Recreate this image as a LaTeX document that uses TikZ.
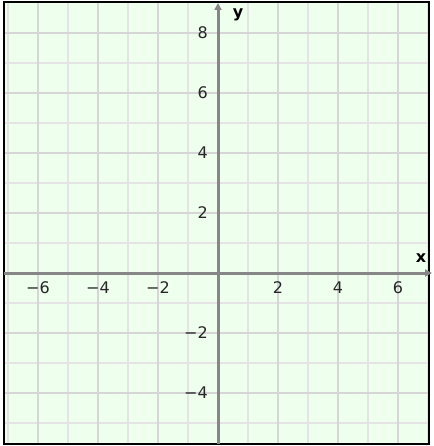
\documentclass[tikz,border=0pt]{standalone}
\usepackage{fontspec}
\setmainfont{DejaVu Sans}
\usetikzlibrary{arrows.meta}
\definecolor{bgc}{HTML}{EEFFEE}
\definecolor{gridodd}{HTML}{E4E4E4}
\definecolor{grideven}{HTML}{D6D6D6}
\definecolor{axisc}{HTML}{868686}
\tikzset{
  gridodd/.style={draw=gridodd, line width=2.5pt},
  grideven/.style={draw=grideven, line width=2.5pt},
  axisline/.style={draw=axisc, line width=3pt, -{Triangle[length=7pt,width=7pt]}},
  ticklab/.style={font=\fontsize{16}{16}\selectfont, text=black!85, inner sep=0pt},
  axlab/.style={font=\fontsize{16}{16}\selectfont\bfseries, text=black, inner sep=0pt},
}
\begin{document}
\begin{tikzpicture}[x=1pt,y=-1pt]
\useasboundingbox (0,0) rectangle (433,446);
\fill[white] (0,0) rectangle (433,446);
\fill[bgc] (4,2.5) rectangle (429,444);
\begin{scope}
\clip (4,2.5) rectangle (429,444);
\foreach \i in {-7,-5,-3,-1,1,3,5,7}
  \draw[gridodd] ({218+30*\i},0) -- ({218+30*\i},446);
\foreach \j in {-5,-3,-1,1,3,5,7}
  \draw[gridodd] (0,{273-30*\j}) -- (433,{273-30*\j});
\foreach \i in {-6,-4,-2,2,4,6}
  \draw[grideven] ({218+30*\i},0) -- ({218+30*\i},446);
\foreach \j in {-4,-2,2,4,6,8}
  \draw[grideven] (0,{273-30*\j}) -- (433,{273-30*\j});
\end{scope}
\draw[black, line width=2pt] (4,2.5) rectangle (429,444);
\coordinate (xstart) at (4,273);
\coordinate (xend) at (432,273);
\coordinate (ystart) at (218,444);
\coordinate (yend) at (218,3);
\draw[axisline] (xstart) -- (xend);
\draw[axisline] (ystart) -- (yend);
\foreach \i/\t in {-6/−6,-4/−4,-2/−2,2/2,4/4,6/6}
  \node[ticklab] (xt\i) at ({218+30*\i},288) {\t};
\foreach \j/\t in {-4/−4,-2/−2,2/2,4/4,6/6,8/8}
  \node[ticklab, anchor=east] (yt\j) at (208,{273-30*\j}) {\t};
\node[axlab] (xlab) at (421,258) {x};
\node[axlab] (ylab) at (238,15) {y};
\end{tikzpicture}
\end{document}
